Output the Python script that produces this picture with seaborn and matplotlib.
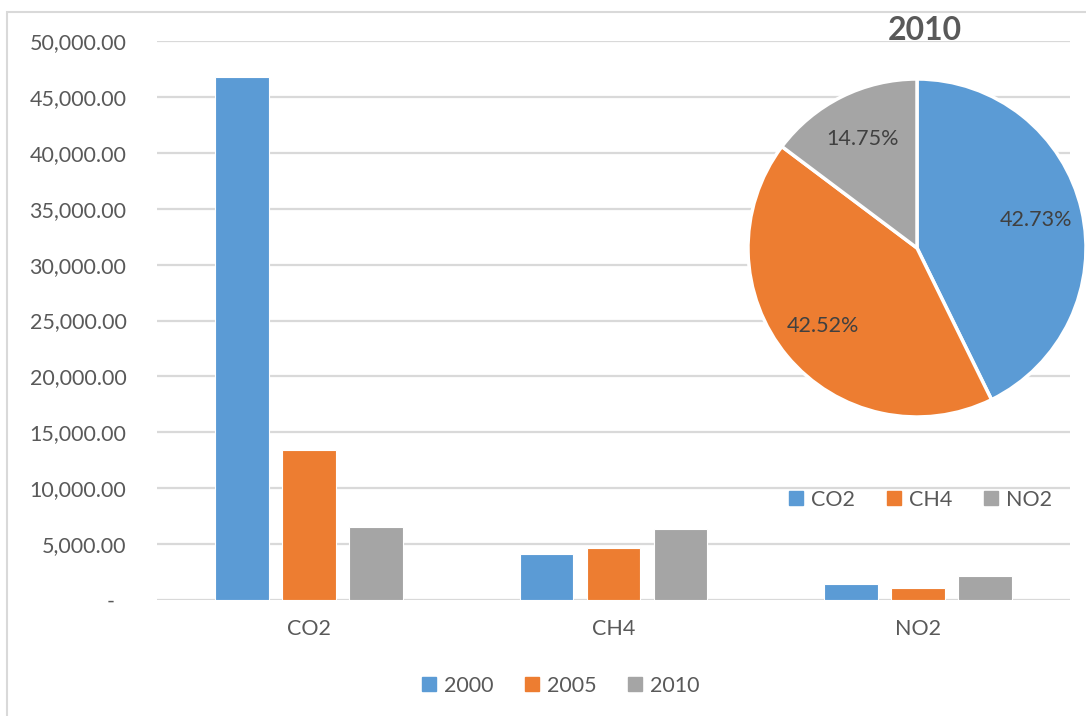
import matplotlib
matplotlib.use("Agg")
import matplotlib.pyplot as plt
from matplotlib.lines import Line2D
from matplotlib.patches import Rectangle
from matplotlib.ticker import FuncFormatter
import seaborn as sns
import pandas as pd

# data
gases = ["CO2", "CH4", "NO2"]
years = ["2000", "2005", "2010"]
values_2000 = [46780, 4110, 1430]
values_2005 = [13420, 4650, 1070]
values_2010 = [6500, 6350, 2120]
pie_shares_2010 = [42.73, 42.52, 14.75]

colors = ["#5B9BD5", "#ED7D31", "#A5A5A5"]
text_color = "#595959"
grid_color = "#D9D9D9"


def draw():
    sns.set_theme(style="white")
    plt.rcParams["font.family"] = ["Lato", "DejaVu Sans"]

    W, H = 1086, 716
    fig = plt.figure(figsize=(W / 100, H / 100), dpi=100)

    # outer chart border (only left/top visible)
    fig.patches.append(Rectangle((7 / W, -0.1), 1.2, 1 - 12 / H + 0.1, transform=fig.transFigure,
                                 fill=False, edgecolor=grid_color, linewidth=1.5, zorder=0))

    df = pd.DataFrame({
        "gas": gases * 3,
        "year": [y for y in years for _ in gases],
        "value": values_2000 + values_2005 + values_2010,
    })

    ax = fig.add_axes([157 / W, 116 / H, 913 / W, 559 / H])
    sns.barplot(data=df, x="gas", y="value", hue="year", hue_order=years, palette=colors,
                width=0.66, gap=0.2, edgecolor="white", linewidth=0.8, ax=ax, legend=False,
                errorbar=None, saturation=1)
    ax.set_ylim(0, 50000)
    ax.set_xlim(-0.5, 2.5)
    ax.set_yticks(range(0, 50001, 5000))
    ax.yaxis.set_major_formatter(FuncFormatter(lambda v, p: "-  " if v == 0 else f"{v:,.2f}"))
    ax.grid(axis="y", color=grid_color, linewidth=1.6)
    ax.set_axisbelow(True)
    for s in ax.spines.values():
        s.set_visible(False)
    ax.tick_params(axis="y", length=0, pad=22, labelsize=15.5, labelcolor=text_color)
    ax.tick_params(axis="x", length=0, pad=14, labelsize=15.5, labelcolor=text_color)
    ax.set_xlabel("")
    ax.set_ylabel("")

    handles = [Line2D([], [], marker="s", linestyle="", color=c, markersize=10) for c in colors]
    fig.legend(handles, years, loc="center", bbox_to_anchor=(560 / W, 1 - 686 / H), ncol=3,
               frameon=False, fontsize=15.5, labelcolor=text_color, handlelength=0.8,
               handletextpad=0.3, columnspacing=1.4)

    # inset pie for 2010
    pax = fig.add_axes([(917 - 169) / W, (716 - 248 - 169) / H, 338 / W, 338 / H])
    pax.pie(pie_shares_2010, colors=colors, startangle=90, counterclock=False,
            autopct=lambda p: f"{p:.2f}%", pctdistance=0.72,
            wedgeprops=dict(edgecolor="white", linewidth=2.5),
            textprops=dict(fontsize=15.5, color="#404040"))
    pax.set_xlim(-1, 1)
    pax.set_ylim(-1, 1)
    pax.patch.set_visible(False)

    fig.text(925 / W, 1 - 30 / H, "2010", ha="center", va="center", fontsize=23,
             fontweight="bold", color=text_color)
    fig.legend(handles, gases, loc="center", bbox_to_anchor=(920 / W, 1 - 500 / H), ncol=3,
               frameon=False, fontsize=15.5, labelcolor=text_color, handlelength=0.8,
               handletextpad=0.3, columnspacing=1.4)

    fig.savefig("out.png", dpi=100)


if __name__ == "__main__":
    draw()
